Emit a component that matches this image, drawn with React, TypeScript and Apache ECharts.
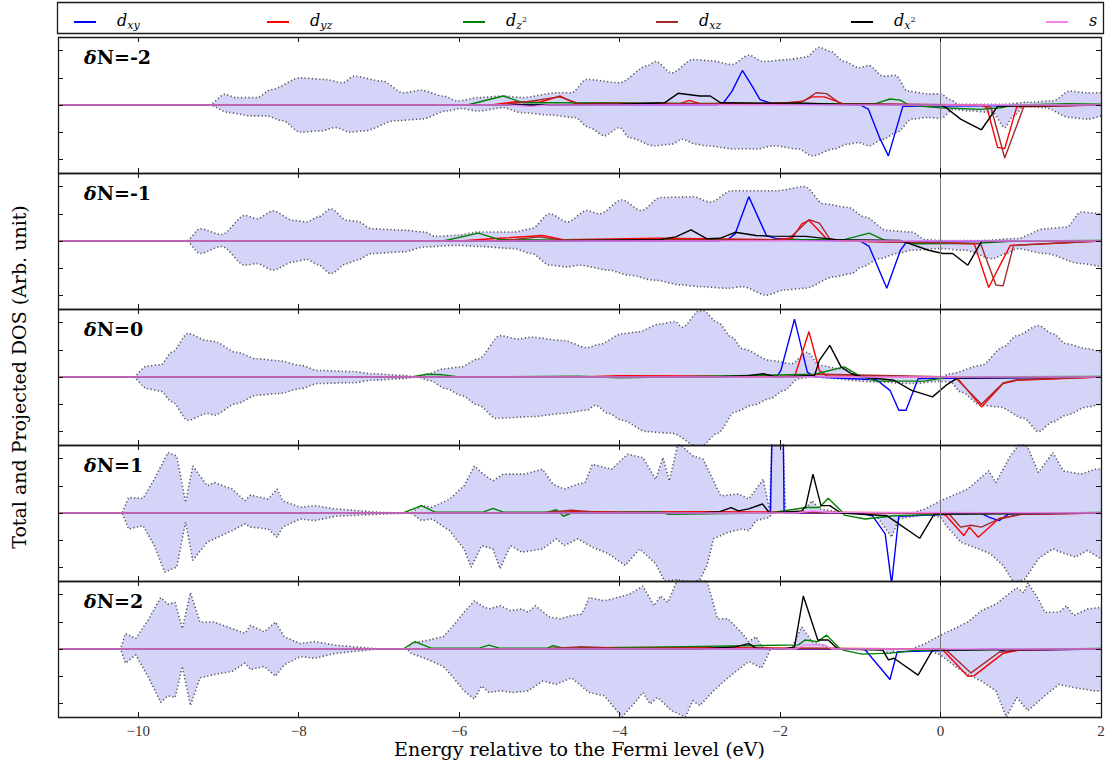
import React, { useEffect, useRef } from 'react';
import * as echarts from 'echarts';

// ---- labels and ticks ----
const panelLabels = ['-2', '-1', '0', '1', '2'];
const xTicks = [-10, -8, -6, -4, -2, 0, 2];
const yTicks = [-2, -1, 0, 1, 2];
const orbitalNames = ['dxy', 'dyz', 'dz2', 'dxz', 'dx2', 's'];
const xTitle = 'Energy relative to the Fermi level (eV)';
const yTitle = 'Total and Projected DOS (Arb. unit)';

// ---- δN = -2 ----
const p1TotalUp = [[-11,0],[-9.12,0],[-8.92,0.39],[-8.78,0.27],[-8.52,0.27],[-8.34,0.57],[-7.98,1.0],[-7.67,0.94],[-7.45,0.82],[-7.31,1.06],[-6.96,0.88],[-6.7,0.45],[-6.47,0.54],[-6.2,0.33],[-6.02,0.15],[-5.76,0.27],[-5.45,0.33],[-5.22,0.27],[-4.78,0.45],[-4.6,0.45],[-4.41,0.94],[-4.0,0.82],[-3.66,1.43],[-3.55,1.6],[-3.35,1.18],[-3.09,1.67],[-2.87,1.63],[-2.6,1.49],[-2.39,1.83],[-2.21,1.6],[-1.9,1.67],[-1.68,1.76],[-1.51,2.12],[-1.38,1.98],[-1.2,1.6],[-1.02,1.37],[-0.89,1.45],[-0.72,1.06],[-0.56,1.09],[-0.41,0.51],[-0.15,0.41],[0,0.41],[0.12,0.2],[0.22,0.03],[0.8,0.03],[1.09,0.1],[1.4,0.15],[1.61,0.51],[1.83,0.45],[2,0.45]];
const p1TotalDn = [[-11,0],[-9.12,0],[-8.87,-0.28],[-8.6,-0.4],[-8.4,-0.4],[-8.2,-0.58],[-7.98,-1.0],[-7.72,-0.95],[-7.54,-0.83],[-7.36,-1.0],[-7.18,-0.95],[-6.8,-0.58],[-6.47,-0.52],[-6.16,-0.22],[-5.98,-0.13],[-5.76,-0.22],[-5.45,-0.1],[-5.22,-0.28],[-4.87,-0.37],[-4.56,-0.46],[-4.38,-0.83],[-4.19,-1.13],[-4.0,-0.83],[-3.88,-1.2],[-3.57,-1.5],[-3.35,-1.44],[-3.22,-1.26],[-3.05,-1.44],[-2.92,-1.5],[-2.56,-1.62],[-2.3,-1.62],[-2.08,-1.5],[-1.77,-1.62],[-1.6,-1.87],[-1.33,-1.62],[-1.16,-1.44],[-1.02,-1.38],[-0.89,-1.5],[-0.72,-1.26],[-0.54,-1.0],[-0.36,-0.52],[-0.15,-0.46],[0,-0.5],[0.16,-0.16],[0.38,-0.22],[0.65,-0.28],[0.8,-0.83],[0.91,-0.4],[1.04,-0.04],[1.3,-0.1],[1.61,-0.46],[1.83,-0.52],[2,-0.4]];
const p1Dxy = [[-11,0],[-2.8,0],[-2.7,0.1],[-2.6,0.5],[-2.47,1.27],[-2.35,0.7],[-2.25,0.2],[-2.1,0.05],[-1.0,0],[-0.9,-0.15],[-0.76,-1.2],[-0.65,-1.87],[-0.47,-0.05],[2,0]];
const p1Dyz = [[-11,0],[-5.6,0],[-5.3,0.12],[-5.0,0.1],[-4.74,0.33],[-4.55,0.05],[-4.2,0.08],[-3.25,0.05],[-3.13,0.17],[-3.0,0.05],[-2.6,0.06],[-2.3,0.05],[-1.75,0.1],[-1.6,0.3],[-1.45,0.3],[-1.2,0.03],[0.5,0],[0.58,-0.1],[0.71,-1.56],[0.8,-1.6],[0.95,-0.07],[2,0]];
const p1Dz2 = [[-11,0],[-5.9,0],[-5.45,0.33],[-5.2,0.08],[-4.8,0.08],[-3.0,0.06],[-1.2,0.05],[-0.8,0.06],[-0.63,0.22],[-0.5,0.18],[-0.4,0.0],[0,-0.1],[0.5,-0.16],[0.75,-0.1],[0.9,0],[1.6,0.05],[2,0.03]];
const p1Dxz = [[-11,0],[-5.5,0],[-5.2,0.1],[-4.75,0.3],[-4.5,0.05],[-2.0,0.05],[-1.7,0.15],[-1.55,0.45],[-1.42,0.42],[-1.25,0.05],[0.55,0],[0.63,-0.1],[0.8,-1.95],[1.04,-0.04],[2,0]];
const p1Dx2 = [[-11,0],[-5.0,0],[-4.0,0.03],[-3.44,0.08],[-3.27,0.43],[-3.0,0.33],[-2.87,0.33],[-2.74,0.08],[-2.2,0.07],[-1.7,0.07],[-1.3,0.03],[0,0],[0.07,-0.1],[0.25,-0.52],[0.51,-0.91],[0.71,-0.05],[2,0]];
const p1S = [[-11,0],[-5.4,0],[-5.1,-0.05],[-4.9,0],[2,0]];

// ---- δN = -1 ----
const p2TotalUp = [[-11,0],[-9.4,0],[-9.23,0.45],[-8.96,0.24],[-8.67,0.94],[-8.52,0.82],[-8.32,1.1],[-8.07,0.76],[-7.9,0.7],[-7.76,0.88],[-7.6,1.18],[-7.4,0.76],[-7.27,0.72],[-7.09,0.45],[-6.7,0.4],[-6.43,0.33],[-6.3,0.17],[-6.03,0.21],[-5.76,0.33],[-5.32,0.33],[-5.1,0.45],[-4.87,1.0],[-4.65,0.7],[-4.41,1.12],[-4.25,1.0],[-3.97,1.51],[-3.73,1.12],[-3.49,1.6],[-3.09,1.63],[-2.87,1.43],[-2.6,1.85],[-2.04,1.85],[-1.69,2.0],[-1.46,1.37],[-1.16,1.24],[-0.94,0.88],[-0.67,0.39],[-0.36,0.33],[-0.19,0.05],[0,0.02],[0.51,0.02],[0.95,0.09],[1.3,0.45],[1.57,0.51],[1.75,1.06],[2,1.0]];
const p2TotalDn = [[-11,0],[-9.4,0],[-9.23,-0.46],[-8.96,-0.2],[-8.67,-0.89],[-8.52,-0.83],[-8.32,-1.07],[-8.07,-0.77],[-7.9,-0.68],[-7.76,-0.87],[-7.6,-1.2],[-7.4,-0.83],[-7.27,-0.7],[-7.09,-0.46],[-6.7,-0.4],[-6.43,-0.22],[-6.03,-0.16],[-5.76,-0.2],[-5.32,-0.28],[-5.1,-0.46],[-4.87,-0.89],[-4.65,-0.95],[-4.5,-0.89],[-4.14,-1.07],[-3.88,-1.26],[-3.57,-1.44],[-3.22,-1.62],[-3.0,-1.68],[-2.65,-1.74],[-2.47,-1.68],[-2.17,-1.99],[-1.95,-1.8],[-1.69,-1.74],[-1.33,-1.32],[-1.11,-1.2],[-0.98,-0.95],[-0.76,-0.65],[-0.54,-0.46],[-0.36,-0.34],[0,-0.28],[0.3,-0.34],[0.65,-0.65],[0.82,-0.46],[0.95,-0.28],[1.3,-0.46],[1.75,-0.83],[2,-0.95]];
const p2Dxy = [[-11,0],[-2.8,0],[-2.65,0.05],[-2.56,0.27],[-2.39,1.63],[-2.17,0.2],[-2.04,0.08],[-1.5,0.02],[-1.0,0],[-0.89,-0.2],[-0.67,-1.74],[-0.5,-0.34],[-0.42,-0.02],[2,0]];
const p2Dyz = [[-11,0],[-6.0,0],[-5.5,0.1],[-4.96,0.2],[-4.7,0.05],[-3.5,0.1],[-2.1,0.05],[-1.85,0.1],[-1.73,0.63],[-1.64,0.76],[-1.42,0.08],[-1.2,0],[0.42,-0.1],[0.6,-1.71],[0.73,-0.95],[0.87,-0.16],[2,0]];
const p2Dz2 = [[-11,0],[-6.2,0],[-5.76,0.29],[-5.5,0.05],[-4.5,0.03],[-3.5,0.05],[-1.2,0.05],[-0.89,0.29],[-0.7,0.03],[-0.3,-0.1],[0.5,-0.08],[0.9,0],[2,0.02]];
const p2Dxz = [[-11,0],[-5.5,0],[-5.0,0.15],[-4.7,0.03],[-1.9,0.05],[-1.64,0.78],[-1.51,0.66],[-1.38,0.08],[-1.2,0],[0.5,-0.1],[0.69,-1.62],[0.78,-1.65],[0.91,-0.16],[2,0]];
const p2Dx2 = [[-11,0],[-5.0,0],[-3.5,0.05],[-3.3,0.15],[-3.11,0.41],[-2.91,0.08],[-2.75,0.1],[-2.56,0.32],[-2.3,0.2],[-2.12,0.18],[-1.68,0.17],[-1.3,0.05],[-0.5,0.02],[-0.15,-0.34],[0.03,-0.46],[0.15,-0.46],[0.34,-0.89],[0.51,-0.02],[2,0]];
const p2S = [[-11,0],[2,0]];

// ---- δN = 0 ----
const p3TotalUp = [[-11,0],[-10.07,0],[-9.89,0.4],[-9.72,0.45],[-9.58,0.91],[-9.38,1.6],[-9.14,1.34],[-9.05,1.3],[-8.78,0.91],[-8.52,0.67],[-8.25,0.6],[-7.98,0.43],[-7.76,0.24],[-7.32,0.2],[-7.09,0.12],[-6.7,0.06],[-6.52,0],[-6.38,0.12],[-6.2,0.3],[-5.98,0.37],[-5.76,0.67],[-5.49,1.52],[-5.27,1.4],[-5.1,1.46],[-4.7,1.34],[-4.41,1.08],[-4.25,1.2],[-3.97,1.59],[-3.79,1.65],[-3.49,1.95],[-3.31,2.04],[-3.22,1.83],[-3.0,2.44],[-2.96,2.44],[-2.78,2.01],[-2.6,1.46],[-2.47,1.04],[-2.12,0.61],[-1.86,0.49],[-1.66,0.91],[-1.51,0.43],[-1.24,0.3],[-1.02,0.06],[-0.8,0.02],[0,0.0],[0.12,0.12],[0.51,0.43],[0.78,1.1],[0.95,1.52],[1.22,1.89],[1.4,1.59],[1.57,1.22],[1.83,1.04],[2,0.91]];
const p3TotalDn = [[-11,0],[-10.07,0],[-9.89,-0.43],[-9.72,-0.52],[-9.58,-0.91],[-9.38,-1.59],[-9.14,-1.34],[-9.05,-1.4],[-8.78,-0.98],[-8.52,-0.67],[-8.25,-0.61],[-7.98,-0.43],[-7.76,-0.24],[-7.32,-0.21],[-7.09,-0.12],[-6.7,-0.06],[-6.52,0],[-6.38,-0.12],[-6.16,-0.43],[-5.98,-0.67],[-5.76,-1.04],[-5.54,-1.52],[-5.1,-1.46],[-4.7,-1.34],[-4.41,-1.22],[-4.3,-1.04],[-4.14,-1.34],[-3.97,-1.59],[-3.66,-2.01],[-3.35,-2.07],[-3.0,-2.6],[-2.78,-2.07],[-2.56,-1.28],[-2.34,-1.04],[-2.12,-0.79],[-1.95,-0.49],[-1.77,-0.06],[-1.6,0],[-0.8,-0.18],[-0.36,-0.24],[0,-0.16],[0.12,-0.18],[0.25,-0.55],[0.51,-1.04],[0.73,-1.1],[1.04,-1.52],[1.22,-2.01],[1.4,-1.65],[1.57,-1.4],[1.83,-1.1],[2,-0.98]];
const p3Dxy = [[-11,0],[-2.1,0],[-2.03,0.06],[-1.99,0.24],[-1.82,2.13],[-1.66,0.18],[-1.57,0],[-0.8,-0.1],[-0.63,-0.49],[-0.52,-1.22],[-0.43,-1.22],[-0.28,-0.06],[2,0]];
const p3Dyz = [[-11,0],[-4.5,0],[-4.0,0.05],[-1.85,0.02],[-1.82,0],[-1.64,1.67],[-1.51,0.24],[-1.42,0.04],[0.15,0],[0.21,-0.04],[0.51,-1.1],[0.78,-0.24],[0.95,-0.12],[2,0]];
const p3Dz2 = [[-11,0],[-6.6,0],[-6.4,0.1],[-6.2,0.08],[-6.0,0],[-4.5,0.03],[-4.0,-0.03],[-1.57,0.1],[-1.2,0.37],[-1.02,0.06],[-0.8,-0.15],[-0.2,-0.15],[0.1,0],[2,0.02]];
const p3Dxz = [[-11,0],[-1.8,0],[-1.68,0.05],[-1.5,0.1],[0.18,0],[0.51,-1.0],[0.78,-0.22],[0.95,-0.1],[2,0]];
const p3Dx2 = [[-11,0],[-2.8,0],[-2.4,0.05],[-2.21,0.12],[-2.05,0],[-1.57,0.06],[-1.51,0.61],[-1.38,1.16],[-1.24,0.37],[-1.11,0.12],[-0.98,0],[-0.58,-0.12],[-0.36,-0.49],[-0.1,-0.73],[0.07,-0.3],[0.21,-0.04],[2,0]];
const p3S = [[-11,0],[2,0]];

// ---- δN = 1 ----
const p4TotalUp = [[-11,0],[-10.2,0],[-10.12,0.57],[-9.94,0.54],[-9.8,1.24],[-9.63,2.22],[-9.52,2.09],[-9.41,0.39],[-9.32,1.73],[-9.14,1.0],[-9.05,1.12],[-8.83,0.88],[-8.67,0.45],[-8.6,0.66],[-8.38,0.51],[-8.27,0.88],[-8.2,0.45],[-7.98,0.21],[-7.8,0.27],[-7.54,0.15],[-6.96,0.02],[-6.6,0],[-6.47,0.27],[-6.34,0.21],[-6.12,0.51],[-5.94,1.0],[-5.81,1.73],[-5.7,1.43],[-5.58,1.18],[-5.45,1.43],[-5.18,1.43],[-4.96,1.61],[-4.83,1.06],[-4.69,0.88],[-4.52,1.06],[-4.43,1.12],[-4.34,1.79],[-4.1,1.61],[-3.9,2.16],[-3.71,2.04],[-3.55,1.24],[-3.46,2.04],[-3.38,1.18],[-3.27,2.6],[-3.09,2.1],[-2.96,1.98],[-2.74,0.63],[-2.52,0.7],[-2.39,0.51],[-2.21,1.24],[-2.13,0.09],[-2.1,3.0],[-1.97,3.0],[-1.93,0],[-1.73,0],[-1.6,0.45],[-1.51,0.15],[-1.24,0.03],[-1.11,0],[-0.36,0],[-0.19,0.15],[0,0.45],[0.34,0.88],[0.6,1.55],[0.69,1.12],[0.87,2.1],[1.0,2.6],[1.08,2.46],[1.22,1.49],[1.4,2.22],[1.53,1.55],[1.75,1.43],[1.93,1.61],[2,1.61]];
const p4TotalDn = [[-11,0],[-10.2,0],[-10.12,-0.59],[-9.94,-0.46],[-9.8,-1.2],[-9.67,-2.17],[-9.52,-1.99],[-9.41,-0.34],[-9.32,-1.74],[-9.14,-1.07],[-9.05,-0.95],[-8.83,-0.65],[-8.67,-0.4],[-8.6,-0.52],[-8.38,-0.59],[-8.27,-0.89],[-8.2,-0.52],[-7.98,-0.22],[-7.8,-0.28],[-7.54,-0.12],[-6.96,-0.04],[-6.6,0],[-6.47,-0.28],[-6.34,-0.22],[-6.12,-0.65],[-5.94,-1.32],[-5.85,-1.99],[-5.72,-1.2],[-5.58,-1.32],[-5.49,-2.05],[-5.36,-1.2],[-5.22,-1.44],[-4.96,-1.32],[-4.79,-0.95],[-4.69,-1.2],[-4.52,-0.95],[-4.34,-1.26],[-4.14,-1.5],[-3.93,-1.93],[-3.75,-1.32],[-3.55,-1.87],[-3.44,-2.5],[-3.27,-2.45],[-3.09,-2.55],[-3.0,-2.45],[-2.91,-1.93],[-2.83,-0.95],[-2.65,-0.71],[-2.47,-0.59],[-2.39,-0.65],[-2.3,-0.28],[-2.13,-0.16],[-2.1,0],[-0.85,0],[-0.8,-0.1],[-0.61,-0.89],[-0.52,-0.22],[-0.19,-0.04],[0,-0.16],[0.07,-0.46],[0.25,-1.07],[0.42,-1.26],[0.62,-1.5],[0.78,-1.93],[0.91,-2.55],[1.05,-2.43],[1.22,-1.68],[1.4,-1.32],[1.5,-1.44],[1.68,-1.62],[1.83,-1.38],[2,-1.68]];
const p4Dxy = [[-11,0],[-2.3,0],[-2.12,0],[-2.1,3.0],[-1.96,3.0],[-1.95,0],[-1.0,0],[-0.85,-0.1],[-0.69,-0.77],[-0.61,-2.6],[-0.52,-0.12],[0.5,0],[0.6,-0.15],[0.73,-0.28],[0.85,-0.03],[2,0]];
const p4Dyz = [[-11,0],[-5.0,0],[-4.5,0.06],[-4.0,0.04],[-3.0,0.05],[0.0,0],[0.07,-0.1],[0.29,-0.83],[0.36,-0.52],[0.47,-0.89],[0.73,-0.2],[1.0,-0.05],[2,0]];
const p4Dz2 = [[-11,0],[-6.7,0],[-6.47,0.27],[-6.3,0.03],[-5.7,0.03],[-5.58,0.17],[-5.45,0.03],[-4.9,0.03],[-4.79,0.12],[-4.7,-0.12],[-4.6,0],[-3.5,0.05],[-3.4,-0.05],[-2.13,0],[-1.68,0.2],[-1.51,0.2],[-1.4,0.54],[-1.24,0.08],[-1.2,-0.08],[-0.94,-0.22],[-0.58,-0.1],[0,-0.05],[2,0.02]];
const p4Dxz = [[-11,0],[-5.0,0],[-4.6,0.1],[-4.3,0.03],[0.05,0],[0.12,-0.08],[0.25,-0.52],[0.38,-0.45],[0.51,-0.52],[0.73,-0.22],[1.0,-0.05],[2,0]];
const p4Dx2 = [[-11,0],[-3.0,0],[-2.75,0.05],[-2.61,0.2],[-2.52,0.08],[-2.39,0.15],[-2.22,0.33],[-2.13,0],[-1.73,0.08],[-1.68,0.25],[-1.59,1.43],[-1.49,0.27],[-1.38,0.27],[-1.24,0],[-0.67,-0.1],[-0.58,-0.28],[-0.26,-0.93],[-0.08,-0.04],[2,0]];
const p4S = [[-11,0],[-1.8,0],[-1.6,0.08],[-1.4,0.03],[2,0]];

// ---- δN = 2 ----
const p5TotalUp = [[-11,0],[-10.22,0],[-10.16,0.57],[-10.03,0.39],[-9.87,1.1],[-9.72,1.89],[-9.63,1.65],[-9.54,1.71],[-9.45,0.75],[-9.35,2.07],[-9.23,0.99],[-9.05,0.99],[-8.83,0.75],[-8.67,0.57],[-8.6,0.87],[-8.43,0.63],[-8.29,0.99],[-8.18,0.45],[-7.98,0.2],[-7.8,0.27],[-7.54,0.14],[-7.0,0],[-6.65,0],[-6.6,0.2],[-6.38,0.33],[-6.2,0.45],[-6.07,0.87],[-5.94,1.35],[-5.81,1.77],[-5.72,1.59],[-5.63,1.47],[-5.49,1.59],[-5.36,1.41],[-5.22,1.47],[-5.14,1.35],[-5.05,1.59],[-4.87,1.17],[-4.74,1.11],[-4.6,1.23],[-4.47,1.29],[-4.38,1.89],[-4.19,1.77],[-3.88,2.01],[-3.71,2.31],[-3.57,1.59],[-3.49,1.95],[-3.4,1.71],[-3.27,2.6],[-2.91,2.5],[-2.78,1.11],[-2.65,1.11],[-2.47,0.57],[-2.39,0.27],[-2.3,0.45],[-2.23,0.08],[-2.15,0],[-1.86,0],[-1.73,0.81],[-1.6,0.27],[-1.42,0.08],[-1.3,0],[-0.36,0],[-0.19,0.2],[0,0.51],[0.34,0.99],[0.51,1.41],[0.69,1.65],[0.82,1.95],[0.95,2.25],[1.04,2.07],[1.09,2.43],[1.22,1.83],[1.3,1.35],[1.48,1.35],[1.57,1.59],[1.66,1.23],[1.83,1.47],[2,1.53]];
const p5TotalDn = [[-11,0],[-10.22,0],[-10.16,-0.52],[-10.03,-0.22],[-9.87,-1.06],[-9.72,-1.96],[-9.63,-1.72],[-9.54,-1.78],[-9.45,-0.64],[-9.35,-2.08],[-9.23,-1.06],[-9.05,-0.94],[-8.83,-0.82],[-8.67,-0.52],[-8.6,-0.76],[-8.43,-0.64],[-8.29,-1.0],[-8.18,-0.58],[-7.98,-0.28],[-7.8,-0.34],[-7.54,-0.16],[-7.0,0],[-6.65,0],[-6.6,-0.16],[-6.38,-0.4],[-6.2,-0.64],[-6.07,-1.06],[-5.94,-1.54],[-5.81,-1.84],[-5.72,-1.36],[-5.63,-1.6],[-5.49,-1.54],[-5.32,-1.6],[-5.14,-1.54],[-4.96,-1.18],[-4.79,-1.3],[-4.6,-1.06],[-4.38,-1.6],[-4.19,-1.72],[-3.97,-2.5],[-3.79,-1.9],[-3.71,-1.6],[-3.62,-2.02],[-3.53,-1.78],[-3.35,-2.27],[-3.18,-2.5],[-3.09,-1.9],[-3.0,-2.08],[-2.83,-1.54],[-2.65,-1.06],[-2.47,-0.64],[-2.39,-0.46],[-2.23,-0.7],[-2.17,-0.34],[-2.12,0],[-0.8,0],[-0.63,-0.16],[-0.54,0],[-0.19,0],[0,-0.22],[0.21,-0.7],[0.34,-0.94],[0.51,-1.18],[0.69,-1.54],[0.82,-2.5],[0.95,-1.78],[1.09,-2.27],[1.3,-1.72],[1.48,-1.3],[1.66,-1.42],[1.92,-1.54],[2,-1.54]];
const p5Dxy = [[-11,0],[-1.0,0],[-0.94,-0.03],[-0.63,-1.12],[-0.54,-0.1],[0.7,0],[0.82,-0.1],[0.95,-0.05],[2,0]];
const p5Dyz = [[-11,0],[-5.0,0],[-4.5,0.05],[-3.5,0.06],[0.0,0],[0.03,-0.04],[0.34,-1.0],[0.42,-0.98],[0.78,-0.16],[1.0,-0.03],[2,0]];
const p5Dz2 = [[-11,0],[-6.7,0],[-6.55,0.27],[-6.35,0.03],[-5.75,0.03],[-5.63,0.14],[-5.5,0.03],[-4.9,0.03],[-4.83,0.12],[-4.7,0.03],[-3.6,0.07],[-1.77,0.15],[-1.69,0.33],[-1.53,0.27],[-1.42,0.51],[-1.26,0.03],[-1.2,-0.05],[-0.98,-0.19],[-0.63,-0.15],[-0.3,-0.05],[2,0.02]];
const p5Dxz = [[-11,0],[-5.0,0],[-4.5,0.08],[-4.0,0.03],[0.05,0],[0.07,-0.04],[0.38,-0.88],[0.73,-0.12],[1.0,-0.03],[2,0]];
const p5Dx2 = [[-11,0],[-3.0,0],[-2.56,0.08],[-2.39,0.2],[-2.3,0.03],[-1.95,0],[-1.82,0.08],[-1.71,1.95],[-1.53,0.33],[-1.4,0.33],[-1.28,0],[-0.72,-0.04],[-0.65,-0.4],[-0.58,-0.34],[-0.28,-0.96],[-0.1,-0.04],[2,0]];
const p5S = [[-11,0],[-1.8,0],[-1.7,0.15],[-1.45,0.15],[-1.35,0],[2,0]];

const panels = [
  { up: p1TotalUp, dn: p1TotalDn, orb: [p1Dxy, p1Dyz, p1Dz2, p1Dxz, p1Dx2, p1S], smooth: true },
  { up: p2TotalUp, dn: p2TotalDn, orb: [p2Dxy, p2Dyz, p2Dz2, p2Dxz, p2Dx2, p2S], smooth: true },
  { up: p3TotalUp, dn: p3TotalDn, orb: [p3Dxy, p3Dyz, p3Dz2, p3Dxz, p3Dx2, p3S], smooth: true },
  { up: p4TotalUp, dn: p4TotalDn, orb: [p4Dxy, p4Dyz, p4Dz2, p4Dxz, p4Dx2, p4S], smooth: false },
  { up: p5TotalUp, dn: p5TotalDn, orb: [p5Dxy, p5Dyz, p5Dz2, p5Dxz, p5Dx2, p5S], smooth: false },
];

// ---- styling ----
const SERIF = '"DejaVu Serif", "Liberation Serif", serif';
const orbitalColors = ['#0000ff', '#ff0000', '#008000', '#a52a2a', '#000000', '#ee82ee'];
const legendLabels: Record<string, string> = {
  dxy: '{d|d}{sb|xy}',
  dyz: '{d|d}{sb|yz}',
  dz2: '{d|d}{sb|z}{sp|2}',
  dxz: '{d|d}{sb|xz}',
  dx2: '{d|d}{sb|x}{sp|2}',
  s: '{d|s}',
};
const legendLefts = [69, 262, 458, 651, 846, 1041];
const PLOT_LEFT = 58;
const PLOT_W = 1043;
const PANEL_TOP = 37;
const PANEL_H = 136;
const fillColor = '#d4d4f8';

function minus(v: number) {
  return String(v).replace('-', '\u2212');
}

function buildOption() {
  const grid: any[] = [];
  const xAxis: any[] = [];
  const yAxis: any[] = [];
  const series: any[] = [];
  const graphic: any[] = [];

  panels.forEach((p, i) => {
    const top = PANEL_TOP + i * PANEL_H;
    grid.push({ left: PLOT_LEFT, top, width: PLOT_W, height: PANEL_H, show: false, outerBoundsMode: 'none' });
    const isLast = i === panels.length - 1;
    const tick = { show: true, inside: true, length: 5, customValues: xTicks, lineStyle: { color: '#111', width: 1 } };
    const noLine = { show: false, onZero: false };
    xAxis.push({
      type: 'value', gridIndex: i, min: -11, max: 2, position: 'bottom', z: 5,
      axisLine: noLine, splitLine: { show: false },
      axisTick: tick,
      axisLabel: {
        show: isLast, customValues: xTicks, margin: 6, formatter: (v: number) => minus(v),
        fontFamily: '"Liberation Serif", serif', fontSize: 15, color: '#333',
      },
      name: isLast ? xTitle : '', nameLocation: 'middle', nameGap: 22,
      nameTextStyle: { fontFamily: SERIF, fontSize: 19, color: '#000', verticalAlign: 'top' },
    });
    xAxis.push({
      type: 'value', gridIndex: i, min: -11, max: 2, position: 'top', z: 5,
      axisLine: noLine, splitLine: { show: false },
      axisTick: tick, axisLabel: { show: false, customValues: xTicks },
    });
    const ytick = { show: true, inside: true, length: 5, customValues: yTicks, lineStyle: { color: '#111', width: 1 } };
    yAxis.push({
      type: 'value', gridIndex: i, min: -2.5, max: 2.5, position: 'left', z: 5,
      axisLine: noLine, splitLine: { show: false },
      axisTick: ytick, axisLabel: { show: false, customValues: yTicks },
    });
    yAxis.push({
      type: 'value', gridIndex: i, min: -2.5, max: 2.5, position: 'right', z: 5,
      axisLine: noLine, splitLine: { show: false },
      axisTick: ytick, axisLabel: { show: false, customValues: yTicks },
    });

    const xi = i * 2;
    const yi = i * 2;
    [p.up, p.dn].forEach((d) => {
      series.push({
        type: 'line', name: 'total', xAxisIndex: xi, yAxisIndex: yi, data: d,
        symbol: 'none', smooth: p.smooth ? 0.3 : false, smoothMonotone: 'x',
        lineStyle: { color: '#555', width: 1.6, type: [1.2, 2.4] },
        areaStyle: { color: fillColor, opacity: 1 },
        silent: true,
      });
    });
    p.orb.forEach((d, k) => {
      const s: any = {
        type: 'line', name: orbitalNames[k], xAxisIndex: xi, yAxisIndex: yi, data: d,
        symbol: 'none',
        lineStyle: { color: orbitalColors[k], width: 1.4 },
        itemStyle: { color: orbitalColors[k] },
        silent: true,
      };
      if (k === 0) {
        s.markLine = {
          silent: true, symbol: ['none', 'none'], label: { show: false },
          lineStyle: { color: '#777', width: 1, type: 'solid' },
          data: [{ xAxis: 0 }],
        };
      }
      series.push(s);
    });

    // panel frame
    graphic.push({
      type: 'rect', z: 100, silent: true,
      shape: { x: PLOT_LEFT + 0.5, y: top + 0.5, width: PLOT_W, height: PANEL_H },
      style: { fill: 'none', stroke: '#1a1a1a', lineWidth: 1.3 },
    });
    // panel label
    graphic.push({
      type: 'text', z: 100, silent: true, x: 84, y: top + 20,
      style: {
        text: `{g|\u03b4}{b|N=${panelLabels[i]}}`,
        verticalAlign: 'middle',
        rich: {
          g: { fontFamily: SERIF, fontStyle: 'italic', fontWeight: 'bold', fontSize: 19, fill: '#000' },
          b: { fontFamily: SERIF, fontWeight: 'bold', fontSize: 19, fill: '#000' },
        },
      },
    });
  });

  // legend box
  graphic.push({
    type: 'rect', z: 100, silent: true,
    shape: { x: PLOT_LEFT - 0.5, y: 2.5, width: PLOT_W + 3, height: 31 },
    style: { fill: 'none', stroke: '#1a1a1a', lineWidth: 1.3 },
  });
  // vertical axis title
  graphic.push({
    type: 'text', z: 100, silent: true, x: 19, y: 377, rotation: Math.PI / 2,
    style: { text: yTitle, fontFamily: SERIF, fontSize: 19, fill: '#000', align: 'center', verticalAlign: 'middle' },
  });

  const legend = orbitalNames.map((name, k) => ({
    data: [name], left: legendLefts[k], top: 7, icon: 'rect', itemWidth: 22, itemHeight: 2,
    selectedMode: false,
    formatter: (n: string) => legendLabels[n],
    textStyle: {
      color: '#000',
      rich: {
        d: { fontFamily: SERIF, fontStyle: 'italic', fontSize: 16, lineHeight: 18, verticalAlign: 'bottom', padding: [0, 0, 3, 16], color: '#000' },
        sb: { fontFamily: SERIF, fontStyle: 'italic', fontSize: 11, lineHeight: 13, verticalAlign: 'bottom', color: '#000' },
        sp: { fontFamily: SERIF, fontSize: 8, lineHeight: 9, verticalAlign: 'bottom', padding: [0, 0, 8, 0], color: '#000' },
      },
    },
  }));

  return {
    animation: false,
    backgroundColor: '#ffffff',
    grid, xAxis, yAxis, series, legend, graphic,
  };
}

export default function App() {
  const ref = useRef<HTMLDivElement>(null);
  useEffect(() => {
    if (!ref.current) return;
    const chart = echarts.init(ref.current, null, { renderer: 'svg' });
    chart.setOption(buildOption() as any);
    return () => chart.dispose();
  }, []);
  return <div ref={ref} style={{ position: 'fixed', left: 0, top: 0, width: 1111, height: 766 }} />;
}
